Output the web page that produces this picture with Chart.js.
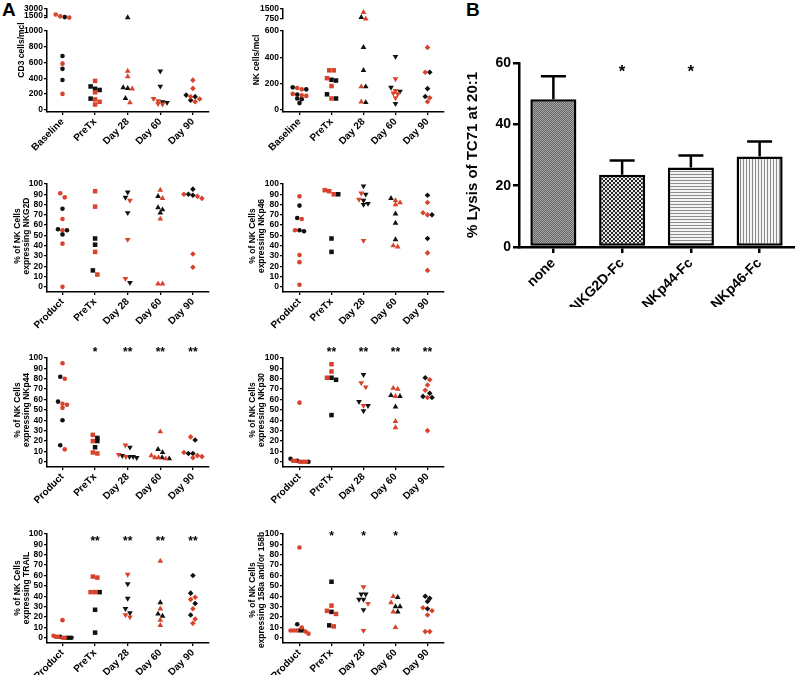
<!DOCTYPE html>
<html>
<head>
<meta charset="utf-8">
<title>NK cell receptors</title>
<script src="https://cdn.jsdelivr.net/npm/chart.js@4.4.1/dist/chart.umd.min.js"></script>
<style>
  body { margin: 0; background: #fff; }
  #wrap { position: relative; width: 795px; height: 675px; overflow: hidden; font-family: "Liberation Sans", Arial, sans-serif; }
  #wrap canvas { position: absolute; }
  .tag { position: absolute; font-weight: bold; font-size: 19px; line-height: 19px; }
</style>
</head>
<body>
<div id="wrap">
  <div class="tag" style="left:2px;top:0px">A</div>
  <div class="tag" style="left:466px;top:0px">B</div>
</div>
<script>
// ---- data ----
const catsBase = ["Baseline", "PreTx", "Day 28", "Day 60", "Day 90"];
const catsProd = ["Product", "PreTx", "Day 28", "Day 60", "Day 90"];

// CD3 cells/mcl
const cd3Red = [[1750, 1350, 1070, 585, 200], [365, 220, 130, 100, 65], [490, 420, 265, 90], [140, 110, 75, 70], [375, 270, 165, 135, 100]];
const cd3Black = [[1180, 683, 519, 376], [295, 265, 250, 140], [1064, 280, 270, 145], [488, 297, 100, 90], [185, 165, 120]];

// NK cells/mcl
const nkRed = [[165, 155, 120, 110, 105], [300, 300, 240, 180, 85], [1250, 760, 175, 60], [235, 145, 125, 120, 90], [475, 285, 90, 60]];
const nkBlack = [[170, 155, 115, 85, 80, 50], [228, 222, 117, 85], [870, 475, 300, 175, 55], [405, 170, 140, 45], [285, 160, 100]];

// % of NK cells expressing ...
const nkg2dRed = [[91, 87, 66, 55, 42, 0], [93, 78, 34, 12], [84, 46, 8], [94, 86, 66, 3, 3], [90, 88, 86, 32, 19]];
const nkg2dBlack = [[76, 56, 55, 51], [47, 41, 16], [92, 87, 72, 4], [88, 77, 75, 72], [95, 90, 89]];

const nkp46Red = [[88, 66, 55, 31, 24, 2], [94, 93, 90], [91, 85, 45], [84, 82, 80, 40, 39], [82, 72, 70, 33, 16]];
const nkp46Black = [[79, 67, 55, 54], [90, 47, 34], [98, 90, 84, 81, 80], [86, 71, 62, 46], [89, 70, 47]];

const nkp44Red = [[95, 80, 56, 55, 52, 12], [26, 20, 9, 8], [16, 7, 5], [29, 6, 4, 3, 4], [24, 9, 6, 4, 5]];
const nkp44Black = [[82, 58, 40, 16], [23, 20, 14], [14, 6, 5, 5, 4], [12, 9, 4, 3], [21, 8, 8]];

const nkp30Red = [[57, 1, 0, 0, 0, 0, 1], [94, 87, 81], [76, 72, 54], [71, 70, 63, 39, 33], [79, 74, 69, 62, 30]];
const nkp30Black = [[3, 1, 0], [81, 79, 45], [84, 58, 54, 49], [64, 63, 53], [81, 66, 63, 62]];

const trailRed = [[17, 2, 1, 1, 0, 0], [59, 58, 44, 44], [61, 22, 20], [74, 28, 17, 12], [39, 37, 28, 18, 14]];
const trailBlack = [[0, 0, 0, 1], [44, 27, 5], [52, 38, 28, 24], [34, 23, 21], [60, 43, 33, 22]];

const cd158Red = [[87, 10, 7, 7, 6, 4, 7], [31, 26, 23, 11], [49, 33, 7], [40, 34, 25, 10], [29, 26, 22, 6, 6]];
const cd158Black = [[13, 7, 7], [54, 25, 12], [42, 42, 37, 37, 27], [39, 30, 30, 25], [40, 38, 35, 28]];

// significance marks
const nkp44Stars = ["", "*", "**", "**", "**"];
const nkp30Stars = ["", "**", "**", "**", "**"];
const trailStars = ["", "**", "**", "**", "**"];
const cd158Stars = ["", "*", "*", "*", ""];

// panel B
const lysisCats = ["none", "NKG2D-Fc", "NKp44-Fc", "NKp46-Fc"];
const lysisMean = [48.2, 23.6, 25.9, 29.5];
const lysisSem = [7.5, 4.6, 3.9, 4.9];
const lysisStars = ["", "*", "*", ""];

// ---- look ----
Chart.defaults.font.family = '"Liberation Sans", Arial, sans-serif';
Chart.defaults.font.weight = 'bold';
Chart.defaults.color = '#000';

const RED = '#d8432b';
const BLACK = '#111111';
const STYLE = { circle: 'circle', rect: 'rect', up: 'triangle', down: 'triangle', diamond: 'rectRot' };
const SIZE = { circle: 2.3, rect: 3.2, up: 3.3, down: 3.3, diamond: 2.8 };
const SHAPES_A = ["circle", "rect", "up", "down", "diamond"];
const SHAPES_B = ["circle", "rect", "down", "up", "diamond"];
const PCT = [0, 10, 20, 30, 40, 50, 60, 70, 80, 90, 100];

const COLS = [
  { left: 0, axisX: 47, right: 209, first: 62.5, gap: 32.6, titleX: 22 },
  { left: 236, axisX: 283, right: 444, first: 299.5, gap: 32, titleX: 257 }
];
const ROWS = [
  { top: 31, bottom: 112 },
  { top: 184, bottom: 292 },
  { top: 358, bottom: 467 },
  { top: 534, bottom: 643 }
];

const panels = [
  { col: 0, row: 0, cats: catsBase, red: cd3Red, black: cd3Black, shapes: SHAPES_A, min: -30, max: 1000,
    ticks: [0, 200, 400, 600, 800, 1000], title: ["CD3 cells/mcl"], titleY: 50,
    brk: { min: 1000, max: 3000, top: 9, bottom: 21, ticks: [1000, 1500, 3000], hide: [1000] } },
  { col: 1, row: 0, cats: catsBase, red: nkRed, black: nkBlack, shapes: SHAPES_A, min: -18, max: 600,
    ticks: [0, 200, 400, 600], title: ["NK cells/mcl"], titleY: 60,
    brk: { min: 750, max: 1500, top: 9, bottom: 22, ticks: [750, 1500], hide: [] } },
  { col: 0, row: 1, cats: catsProd, red: nkg2dRed, black: nkg2dBlack, shapes: SHAPES_B, min: -5, max: 100,
    ticks: PCT, title: ["% of NK Cells", "expressing NKG2D"], titleY: 236 },
  { col: 1, row: 1, cats: catsProd, red: nkp46Red, black: nkp46Black, shapes: SHAPES_B, min: -5, max: 100,
    ticks: PCT, title: ["% of NK Cells", "expressing NKp46"], titleY: 236 },
  { col: 0, row: 2, cats: catsProd, red: nkp44Red, black: nkp44Black, shapes: SHAPES_B, min: -5, max: 100,
    ticks: PCT, title: ["% of NK Cells", "expressing NKp44"], titleY: 410, stars: nkp44Stars, starY: 107 },
  { col: 1, row: 2, cats: catsProd, red: nkp30Red, black: nkp30Black, shapes: SHAPES_B, min: -5, max: 100,
    ticks: PCT, title: ["% of NK Cells", "expressing NKp30"], titleY: 410, stars: nkp30Stars, starY: 107 },
  { col: 0, row: 3, cats: catsProd, red: trailRed, black: trailBlack, shapes: SHAPES_B, min: -5, max: 100,
    ticks: PCT, title: ["% of NK Cells", "expressing TRAIL"], titleY: 588, stars: trailStars, starY: 95 },
  { col: 1, row: 3, cats: catsProd, red: cd158Red, black: cd158Black, shapes: SHAPES_B, min: -5, max: 100,
    ticks: PCT, title: ["% of NK Cells", "expressing 158a and/or 158b"], titleY: 590, stars: cd158Stars, starY: 99 }
];

// ---- plugins ----
const starPlugin = {
  id: 'stars',
  afterDraw(chart, args, o) {
    if (!o.labels) return;
    const { ctx, scales } = chart;
    ctx.save();
    ctx.font = 'bold ' + o.size + 'px "Liberation Sans", Arial, sans-serif';
    ctx.textAlign = 'center';
    ctx.textBaseline = 'middle';
    ctx.fillStyle = '#000';
    o.labels.forEach((s, i) => {
      if (s) ctx.fillText(s, scales.x.getPixelForValue(i), scales.y.getPixelForValue(o.y) + (o.dy || 0));
    });
    ctx.restore();
  }
};

// rotated y titles, placed by hand like the original
const yTitlePlugin = {
  id: 'ytitle',
  afterDraw(chart, args, o) {
    if (!o.lines) return;
    const ctx = chart.ctx;
    ctx.save();
    ctx.translate(o.x, o.y);
    ctx.rotate(-Math.PI / 2);
    ctx.font = 'bold ' + o.size + 'px "Liberation Sans", Arial, sans-serif';
    ctx.textAlign = 'center';
    ctx.textBaseline = 'middle';
    ctx.fillStyle = '#000';
    o.lines.forEach((t, k) => ctx.fillText(t, 0, (k - (o.lines.length - 1) / 2) * o.gap));
    ctx.restore();
  }
};

const errPlugin = {
  id: 'errbars',
  afterDatasetsDraw(chart, args, o) {
    if (!o.sem) return;
    const ctx = chart.ctx;
    const y = chart.scales.y;
    const vals = chart.data.datasets[0].data;
    ctx.save();
    ctx.strokeStyle = '#000';
    ctx.lineWidth = o.width;
    chart.getDatasetMeta(0).data.forEach((bar, i) => {
      const yt = y.getPixelForValue(vals[i] + o.sem[i]);
      ctx.beginPath();
      ctx.moveTo(bar.x, bar.y);
      ctx.lineTo(bar.x, yt);
      ctx.moveTo(bar.x - o.cap, yt);
      ctx.lineTo(bar.x + o.cap, yt);
      ctx.stroke();
    });
    ctx.restore();
  }
};

Chart.register(starPlugin, yTitlePlugin, errPlugin);

// ---- helpers ----
function addCanvas(left, top, w, h) {
  const c = document.createElement('canvas');
  c.width = w;
  c.height = h;
  c.style.left = left + 'px';
  c.style.top = top + 'px';
  document.getElementById('wrap').appendChild(c);
  return c;
}

// spread points with close values sideways (like a dot plot)
function swarm(pys, step, maxW) {
  const idx = pys.map((_, i) => i).sort((a, b) => pys[a] - pys[b]);
  const off = new Array(pys.length).fill(0);
  let i = 0;
  while (i < idx.length) {
    let j = i;
    while (j + 1 < idx.length && pys[idx[j + 1]] - pys[idx[i]] < step) j++;
    const n = j - i + 1;
    const s = n > 1 ? Math.min(step, maxW / (n - 1)) : 0;
    for (let k = 0; k < n; k++) off[idx[i + k]] = (k - (n - 1) / 2) * s;
    i = j + 1;
  }
  return off;
}

function yScale(min, max, ticks, hide, width) {
  return {
    min: min,
    max: max,
    afterBuildTicks: s => { s.ticks = ticks.map(v => ({ value: v })); },
    afterFit: s => { s.width = width; },
    ticks: { autoSkip: false, font: { size: 8.5 }, padding: 1, callback: v => (hide && hide.includes(v) ? '' : String(v)) },
    grid: { drawOnChartArea: false, tickLength: 3, color: '#000', lineWidth: 1.3 },
    border: { color: '#000', width: 1.5 }
  };
}

function xScale(col, cats, show) {
  return {
    type: 'linear',
    display: show,
    min: (col.axisX - col.first) / col.gap,
    max: (col.right - col.first) / col.gap,
    afterBuildTicks: s => { s.ticks = cats.map((c, i) => ({ value: i })); },
    afterFit: s => { s.height = show ? 40 : 0; },
    ticks: { autoSkip: false, minRotation: 45, maxRotation: 45, padding: 1, font: { size: 10 }, callback: v => cats[v] },
    grid: { drawOnChartArea: false, tickLength: 3, color: '#000', lineWidth: 1.3 },
    border: { color: '#000', width: 1.5 }
  };
}

function pointSet(points, shapes, color) {
  return {
    data: points,
    pointBackgroundColor: color,
    pointBorderWidth: 0,
    pointStyle: c => (c.raw ? STYLE[shapes[c.raw.c]] : 'circle'),
    pointRotation: c => (c.raw && shapes[c.raw.c] === 'down' ? 180 : 0),
    pointRadius: c => (c.raw ? SIZE[shapes[c.raw.c]] : 2),
    clip: false
  };
}

function scatterPanel(p) {
  const col = COLS[p.col];
  const row = ROWS[p.row];
  const toPx = v => {
    if (p.brk && v > p.max) return p.brk.bottom - (v - p.brk.min) / (p.brk.max - p.brk.min) * (p.brk.bottom - p.brk.top);
    return row.bottom - (v - p.min) / (p.max - p.min) * (row.bottom - row.top);
  };
  const red = [], black = [];
  p.cats.forEach((c, ci) => {
    const all = p.red[ci].map(v => ({ v: v, g: red })).concat(p.black[ci].map(v => ({ v: v, g: black })));
    const off = swarm(all.map(a => toPx(a.v)), 4.5, 18);
    all.forEach((a, k) => a.g.push({ x: ci + off[k] / col.gap, y: a.v, c: ci }));
  });
  const inMain = pt => !p.brk || pt.y <= p.max;

  const pad = 12;
  const w = col.right + 8 - col.left;
  const h = row.bottom - row.top + pad + 48;
  const top = row.top - pad;
  const cv = addCanvas(col.left, top, w, h);
  new Chart(cv, {
    type: 'scatter',
    data: { datasets: [pointSet(red.filter(inMain), p.shapes, RED), pointSet(black.filter(inMain), p.shapes, BLACK)] },
    options: {
      responsive: false, animation: false, events: [], devicePixelRatio: 1,
      layout: { padding: { left: 0, top: pad, right: 8, bottom: 8 } },
      plugins: {
        legend: { display: false }, tooltip: { enabled: false },
        stars: p.stars ? { labels: p.stars, y: p.starY, size: 12, dy: 2 } : {},
        ytitle: { lines: p.title, x: col.titleX - col.left, y: p.titleY - top, size: 8.5, gap: 8.5 }
      },
      scales: { x: xScale(col, p.cats, true), y: yScale(p.min, p.max, p.ticks, null, col.axisX - col.left) }
    }
  });

  if (!p.brk) return;
  // upper segment of the broken axis
  const b = p.brk;
  const cv2 = addCanvas(col.left, 0, w, b.bottom + 3);
  new Chart(cv2, {
    type: 'scatter',
    data: { datasets: [pointSet(red.filter(pt => !inMain(pt)), p.shapes, RED), pointSet(black.filter(pt => !inMain(pt)), p.shapes, BLACK)] },
    options: {
      responsive: false, animation: false, events: [], devicePixelRatio: 1,
      layout: { padding: { left: 0, top: b.top, right: 8, bottom: 3 } },
      plugins: { legend: { display: false }, tooltip: { enabled: false } },
      scales: { x: xScale(col, p.cats, false), y: yScale(b.min, b.max, b.ticks, b.hide, col.axisX - col.left) }
    }
  });
}

panels.forEach(scatterPanel);

// ---- panel B ----
const bCanvas = addCanvas(455, 0, 340, 320);
const bctx = bCanvas.getContext('2d');
function pattern(w, h, draw) {
  const c = document.createElement('canvas');
  c.width = w;
  c.height = h;
  draw(c.getContext('2d'));
  return bctx.createPattern(c, 'repeat');
}
const fills = [
  pattern(2, 2, g => { g.fillStyle = '#a4a4a4'; g.fillRect(0, 0, 2, 2); g.fillStyle = '#686868'; g.fillRect(0, 0, 1, 1); g.fillRect(1, 1, 1, 1); }),
  pattern(4, 4, g => { g.fillStyle = '#e6e6e6'; g.fillRect(0, 0, 4, 4); g.fillStyle = '#2a2a2a'; g.fillRect(0, 0, 2, 2); g.fillRect(2, 2, 2, 2); }),
  pattern(4, 3, g => { g.fillStyle = '#f4f4f4'; g.fillRect(0, 0, 4, 3); g.fillStyle = '#8c8c8c'; g.fillRect(0, 0, 4, 1); }),
  pattern(3, 4, g => { g.fillStyle = '#f4f4f4'; g.fillRect(0, 0, 3, 4); g.fillStyle = '#8c8c8c'; g.fillRect(0, 0, 1, 4); })
];

new Chart(bCanvas, {
  type: 'bar',
  data: {
    labels: lysisCats,
    datasets: [{ data: lysisMean, backgroundColor: fills, borderColor: '#000', borderWidth: 2.5, borderSkipped: false, barPercentage: 0.67, categoryPercentage: 1 }]
  },
  options: {
    responsive: false, animation: false, events: [], devicePixelRatio: 1,
    layout: { padding: { left: 0, top: 63, right: 1, bottom: 13 } },
    plugins: {
      legend: { display: false }, tooltip: { enabled: false },
      errbars: { sem: lysisSem, cap: 12.5, width: 2.5 },
      stars: { labels: lysisStars, y: 58.4, size: 17, dy: 4 },
      ytitle: { lines: ["% Lysis of TC71 at 20:1"], x: 18, y: 155, size: 15, gap: 0 }
    },
    scales: {
      x: {
        grid: { offset: false, drawOnChartArea: false, tickLength: 6, color: '#000', lineWidth: 2.5 },
        border: { color: '#000', width: 2.5 },
        ticks: { autoSkip: false, minRotation: 45, maxRotation: 45, font: { size: 14 }, padding: 2 },
        afterFit: s => { s.height = 60; }
      },
      y: {
        min: 0, max: 60,
        afterBuildTicks: s => { s.ticks = [0, 20, 40, 60].map(v => ({ value: v })); },
        afterFit: s => { s.width = 64; },
        ticks: { font: { size: 14 }, padding: 2 },
        grid: { drawOnChartArea: false, tickLength: 6, color: '#000', lineWidth: 2.5 },
        border: { color: '#000', width: 2.5 }
      }
    }
  }
});
</script>
</body>
</html>
